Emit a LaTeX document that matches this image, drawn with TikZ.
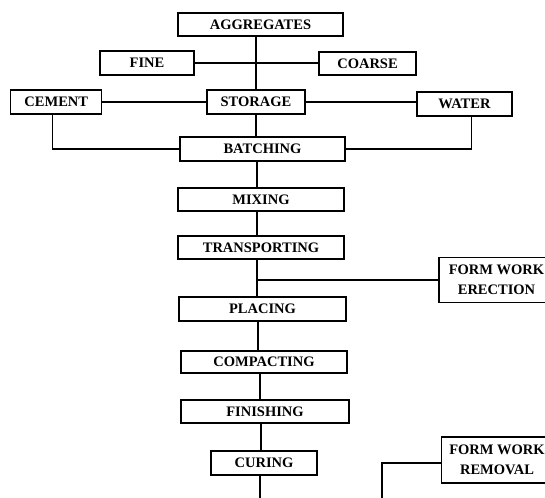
\documentclass[tikz,border=0pt]{standalone}
\usepackage{fontspec}
\setmainfont{Liberation Serif}
\begin{document}
\begin{tikzpicture}[x=1pt,y=-1pt,
  stepbox/.style={draw, line width=1.2pt, inner sep=0pt, align=center,
    font=\fontsize{14.5}{20}\selectfont\bfseries},
  link/.style={line width=1.2pt}]
\useasboundingbox (0,0) rectangle (545,497);
\clip (0,0) rectangle (545,497);
% nodes
\node[stepbox, minimum width=165pt, minimum height=23pt] (agg) at (260.5,24.5) {AGGREGATES};
\node[stepbox, minimum width=94pt, minimum height=24pt] (fine) at (147,63) {FINE};
\node[stepbox, minimum width=97pt, minimum height=23pt] (coarse) at (367.5,63.5) {COARSE};
\node[stepbox, minimum width=91pt, minimum height=24pt] (cement) at (56.3,102) {CEMENT};
\node[stepbox, minimum width=98pt, minimum height=24pt] (storage) at (256,102) {STORAGE};
\node[stepbox, minimum width=95pt, minimum height=24pt] (water) at (464.5,104) {WATER};
\node[stepbox, minimum width=165pt, minimum height=24pt] (batch) at (262.5,149) {BATCHING};
\node[stepbox, minimum width=166pt, minimum height=23pt] (mix) at (261,199.5) {MIXING};
\node[stepbox, minimum width=166pt, minimum height=23pt] (trans) at (261,247.5) {TRANSPORTING};
\node[stepbox, minimum width=115pt, minimum height=45pt] (fwe) at (496.5,280) {FORM WORK\\ERECTION};
\node[stepbox, minimum width=167pt, minimum height=24pt] (placing) at (262.5,309) {PLACING};
\node[stepbox, minimum width=166pt, minimum height=22pt] (compact) at (264,362) {COMPACTING};
\node[stepbox, minimum width=168pt, minimum height=23pt] (finish) at (265,411.5) {FINISHING};
\node[stepbox, minimum width=106pt, minimum height=24pt] (curing) at (264,463) {CURING};
\node[stepbox, minimum width=111pt, minimum height=46pt] (fwr) at (497,460) {FORM WORK\\REMOVAL};
% free ends below the picture
\coordinate (spineend) at (260,510);
\coordinate (fwrend) at (382,510);
% spine
\draw[link] (storage.north) -- (storage.north |- agg.south);
\draw[link] (fine.east) -- (fine.east -| coarse.west);
\draw[link] (cement.east) -- (storage.west);
\draw[link] (storage.east) -- (storage.east -| water.west);
\draw[link] (storage.south) -- (storage.south |- batch.north);
\draw[link] ([xshift=-5.5pt]batch.south) -- ([xshift=-5.5pt]batch.south |- mix.north);
\draw[link] ([xshift=-4pt]mix.south) -- ([xshift=-4pt]mix.south |- trans.north);
\draw[link] ([xshift=-4pt]trans.south) -- ([xshift=-4pt]trans.south |- placing.north);
\draw[link] ([xshift=-4pt]trans.south |- fwe.west) -- (fwe.west);
\draw[link] ([xshift=-4.5pt]placing.south) -- ([xshift=-4.5pt]placing.south |- compact.north);
\draw[link] ([xshift=-4pt]compact.south) -- ([xshift=-4pt]compact.south |- finish.north);
\draw[link] ([xshift=-4pt]finish.south) -- ([xshift=-4pt]finish.south |- curing.north);
\draw[link] (curing.south -| spineend) -- (spineend);
% side feeds
\draw[link] ([xshift=-4pt]cement.south) |- (batch.west);
\draw[link] ([xshift=7pt]water.south) |- (batch.east);
\draw[link] ([yshift=-3pt]fwr.west) -| (fwrend);
\end{tikzpicture}
\end{document}
